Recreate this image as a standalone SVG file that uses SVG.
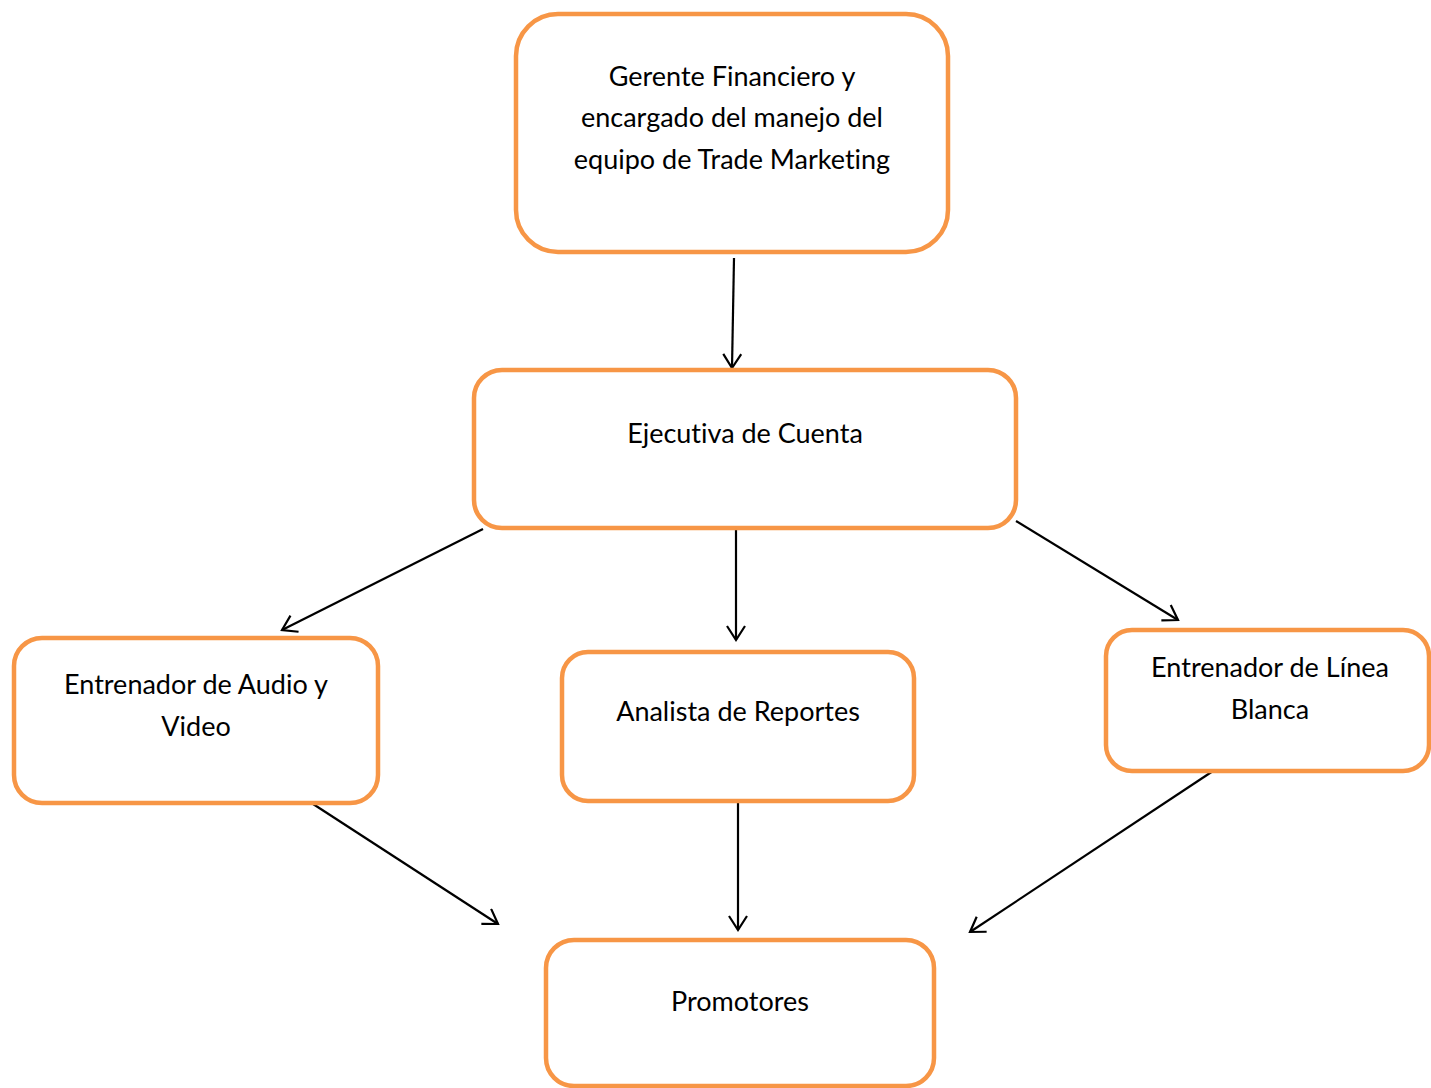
<svg xmlns="http://www.w3.org/2000/svg" width="1431" height="1088" viewBox="0 0 1431 1088">
<style>
.box{fill:#fff;stroke:#F79646;stroke-width:4.5}
.lbl{font-family:Lato,"Liberation Sans",Arial,sans-serif;font-size:27px;fill:#000;text-anchor:middle;font-variant-ligatures:none}
.conn{stroke:#000;stroke-width:2.2;fill:none;marker-end:url(#arr)}
</style>
<defs>
<marker id="arr" markerUnits="userSpaceOnUse" markerWidth="24" markerHeight="24" refX="15" refY="10" orient="auto">
<path d="M1,1 L15,10 L1,19" fill="none" stroke="#000" stroke-width="2.2"/>
</marker>
</defs>
<rect width="1431" height="1088" fill="#fff"/>
<g id="connectors">
<line class="conn" x1="734" y1="258" x2="732" y2="368"/>
<line class="conn" x1="483" y1="529" x2="282" y2="630"/>
<line class="conn" x1="736" y1="529" x2="736" y2="640"/>
<line class="conn" x1="1016" y1="521" x2="1178" y2="620"/>
<line class="conn" x1="310" y1="802" x2="498" y2="924"/>
<line class="conn" x1="738" y1="803" x2="738" y2="930"/>
<line class="conn" x1="1213" y1="771" x2="970" y2="932"/>
</g>
<g id="gerente">
<rect class="box" x="516" y="14" width="432" height="238" rx="42"/>
<text class="lbl" x="732" y="86">Gerente Financiero y</text>
<text class="lbl" x="732" y="127">encargado del manejo del</text>
<text class="lbl" x="732" y="169">equipo de Trade Marketing</text>
</g>
<g id="ejecutiva">
<rect class="box" x="474" y="370" width="542" height="158" rx="28"/>
<text class="lbl" x="745" y="443">Ejecutiva de Cuenta</text>
</g>
<g id="audio">
<rect class="box" x="14" y="638" width="364" height="165" rx="28"/>
<text class="lbl" x="196" y="694">Entrenador de Audio y</text>
<text class="lbl" x="196" y="736">Video</text>
</g>
<g id="analista">
<rect class="box" x="562" y="652" width="352" height="149" rx="26"/>
<text class="lbl" x="738" y="721">Analista de Reportes</text>
</g>
<g id="linea">
<rect class="box" x="1106" y="630" width="323" height="141" rx="26"/>
<text class="lbl" x="1270" y="677">Entrenador de Línea</text>
<text class="lbl" x="1270" y="719">Blanca</text>
</g>
<g id="promotores">
<rect class="box" x="546" y="940" width="388" height="146" rx="28"/>
<text class="lbl" x="740" y="1011">Promotores</text>
</g>
</svg>
